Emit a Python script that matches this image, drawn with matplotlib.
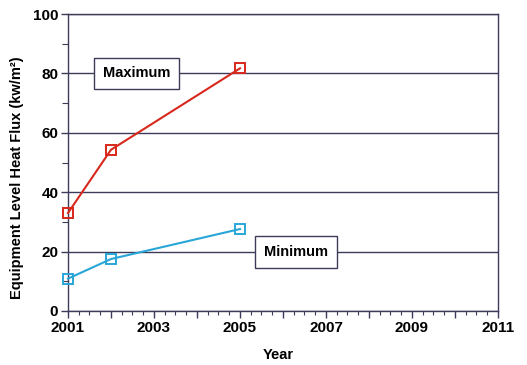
import matplotlib.pyplot as plt
from matplotlib.ticker import MultipleLocator, FixedLocator

years = [2001, 2002, 2005]
maximum = [33.0, 54.3, 81.7]
minimum = [10.9, 17.5, 27.6]

xtick_years = list(range(2001, 2012))
xtick_labels = [2001, 2003, 2005, 2007, 2009, 2011]
yticks = [0, 20, 40, 60, 80, 100]

plt.rcParams['font.family'] = ['Liberation Sans', 'DejaVu Sans']
plt.rcParams['font.weight'] = 'bold'

axis_col = '#3c3c5a'
red = '#d8281c'
blue = '#28a6d8'

fig = plt.figure(figsize=(5.27, 3.65), dpi=100)
ax = fig.add_axes([68/527, 1 - 311/365, 430/527, 297/365])

ax.plot(years, maximum, color=red, lw=1.5, marker='s', ms=7,
        mfc='none', mec=red, mew=1.4, zorder=3, clip_on=False)
ax.plot(years, minimum, color=blue, lw=1.5, marker='s', ms=7,
        mfc='none', mec=blue, mew=1.4, zorder=3, clip_on=False)

ax.set_xlim(2001, 2011)
ax.set_ylim(0, 100)

ax.set_xticks(xtick_years)
ax.set_xticklabels([str(t) if t in xtick_labels else '' for t in xtick_years])
ax.xaxis.set_minor_locator(MultipleLocator(0.25))
ax.yaxis.set_major_locator(FixedLocator(yticks))
ax.yaxis.set_minor_locator(MultipleLocator(10))

ax.tick_params(axis='both', which='major', length=5, width=1, color=axis_col,
               labelsize=11, pad=2)
ax.tick_params(axis='x', which='minor', length=3, width=0.8, color=axis_col)
ax.tick_params(axis='y', which='minor', length=4, width=0.8, color=axis_col)

ax.grid(axis='y', which='major', color=axis_col, lw=1.0)
ax.set_axisbelow(True)
for s in ['left', 'right', 'bottom', 'top']:
    ax.spines[s].set_color(axis_col)
    ax.spines[s].set_linewidth(1.0)

ax.set_xlabel('Year', fontsize=10.5, fontweight='bold')
ax.xaxis.set_label_coords(0.49, -0.125)
ax.set_ylabel('Equipment Level Heat Flux (kw/m\u00b2)', fontsize=10.5,
              fontweight='bold')
ax.yaxis.set_label_coords(-0.102, 0.45)

box = dict(boxstyle='square,pad=0.6', fc='white', ec=axis_col, lw=1.0)
ax.text(2002.6, 80, 'Maximum', ha='center', va='center', fontsize=10.5,
        fontweight='bold', bbox=box, zorder=4)
ax.text(2006.3, 19.8, 'Minimum', ha='center', va='center', fontsize=10.5,
        fontweight='bold', bbox=box, zorder=4)

fig.savefig('out.png', dpi=100)
